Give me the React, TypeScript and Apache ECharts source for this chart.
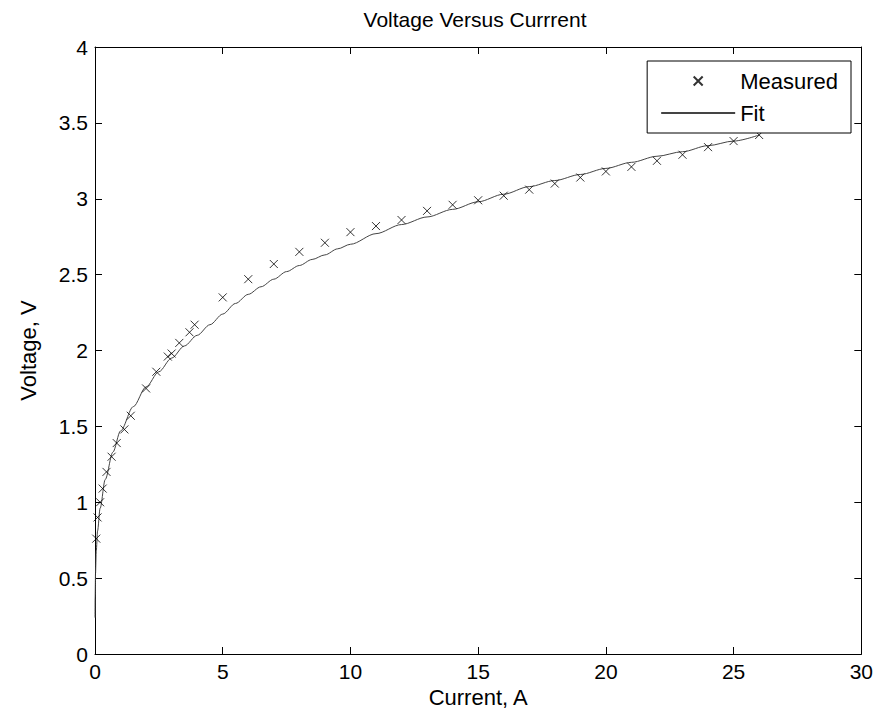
import React, { useEffect, useRef } from "react";
import * as echarts from "echarts";

const titleText = "Voltage Versus Currrent";
const xAxisName = "Current, A";
const yAxisName = "Voltage, V";
const seriesNames = ["Measured", "Fit"];

const measuredCurrent = [0.05, 0.1, 0.2, 0.3, 0.45, 0.65, 0.85, 1.15, 1.4, 2.0, 2.4, 2.85, 3.0, 3.3, 3.7, 3.9, 5, 6, 7, 8, 9, 10, 11, 12, 13, 14, 15, 16, 17, 18, 19, 20, 21, 22, 23, 24, 25, 26];
const measuredVoltage = [0.76, 0.9, 1.0, 1.09, 1.2, 1.3, 1.39, 1.48, 1.57, 1.75, 1.86, 1.96, 1.98, 2.05, 2.12, 2.17, 2.35, 2.47, 2.57, 2.65, 2.71, 2.78, 2.82, 2.86, 2.92, 2.96, 2.99, 3.02, 3.06, 3.10, 3.14, 3.18, 3.21, 3.25, 3.29, 3.34, 3.38, 3.42];

const fitCurrent = [0.001, 0.005, 0.02, 0.05, 0.1, 0.2, 0.4, 0.7, 1, 1.5, 2, 2.5, 3, 3.5, 4, 4.5, 5, 5.5, 6, 6.5, 7, 7.5, 8, 8.5, 9, 9.5, 10, 11, 12, 13, 14, 15, 16, 17, 18, 19, 20, 21, 22, 23, 24, 25, 26];
const fitVoltage = [0.24, 0.37, 0.53, 0.68, 0.81, 0.96, 1.15, 1.33, 1.47, 1.63, 1.76, 1.86, 1.95, 2.03, 2.1, 2.17, 2.24, 2.31, 2.37, 2.42, 2.47, 2.52, 2.56, 2.6, 2.63, 2.67, 2.7, 2.77, 2.83, 2.88, 2.93, 2.98, 3.03, 3.08, 3.12, 3.16, 3.2, 3.24, 3.28, 3.31, 3.35, 3.38, 3.42];

const FONT = "'Liberation Sans', Arial, Helvetica, sans-serif";

export default function App() {
  const ref = useRef<HTMLDivElement>(null);
  useEffect(() => {
    if (!ref.current) return;
    const chart = echarts.init(ref.current, null, { renderer: "svg" });
    const measured = measuredCurrent.map((c, i) => [c, measuredVoltage[i]]);
    const fit = fitCurrent.map((c, i) => [c, fitVoltage[i]]);
    const axisLine = { show: true, onZero: false, lineStyle: { color: "#000", width: 1 } };
    const tick = { show: true, inside: true, length: 7, lineStyle: { color: "#000", width: 1 } };
    const label = { color: "#000", fontSize: 21, fontFamily: FONT };
    chart.setOption({
      animation: false,
      backgroundColor: "#fff",
      title: {
        text: titleText,
        left: 470,
        top: 4,
        textAlign: "center",
        textStyle: { fontSize: 21, fontWeight: "normal", color: "#000", fontFamily: FONT },
      },
      legend: {
        orient: "vertical",
        right: 25,
        top: 61,
        data: [
          { name: seriesNames[0] },
          { name: seriesNames[1], itemStyle: { color: "rgba(0,0,0,0)", borderWidth: 0, opacity: 0 } },
        ],
        itemWidth: 74,
        itemHeight: 9,
        itemGap: 10,
        borderColor: "#000",
        borderWidth: 1,
        borderRadius: 0,
        backgroundColor: "#fff",
        padding: [9, 13, 9, 13],
        textStyle: { fontSize: 22, color: "#000", fontFamily: FONT },
      },
      grid: { left: 95, right: 14, top: 47, bottom: 64, containLabel: false },
      xAxis: [
        {
          type: "value",
          min: 0,
          max: 30,
          interval: 5,
          position: "bottom",
          name: xAxisName,
          nameLocation: "middle",
          nameGap: 29,
          nameTextStyle: { fontSize: 22, color: "#000", fontFamily: FONT },
          axisLine,
          axisTick: tick,
          axisLabel: { ...label, margin: 7 },
          splitLine: { show: false },
        },
        {
          type: "value",
          min: 0,
          max: 30,
          interval: 5,
          position: "top",
          axisLine,
          axisTick: tick,
          axisLabel: { show: false },
          splitLine: { show: false },
        },
      ],
      yAxis: [
        {
          type: "value",
          min: 0,
          max: 4,
          interval: 0.5,
          position: "left",
          name: yAxisName,
          nameLocation: "middle",
          nameGap: 56,
          nameTextStyle: { fontSize: 22, color: "#000", fontFamily: FONT },
          axisLine,
          axisTick: tick,
          axisLabel: { ...label, margin: 7 },
          splitLine: { show: false },
        },
        {
          type: "value",
          min: 0,
          max: 4,
          interval: 0.5,
          position: "right",
          axisLine,
          axisTick: tick,
          axisLabel: { show: false },
          splitLine: { show: false },
        },
      ],
      series: [
        {
          name: seriesNames[0],
          type: "scatter",
          xAxisIndex: 0,
          yAxisIndex: 0,
          data: measured,
          symbol: "path://M0,0L10,10M10,0L0,10",
          symbolSize: 8,
          itemStyle: { color: "#000", borderColor: "#000", borderWidth: 1 },
          z: 3,
        },
        {
          name: seriesNames[1],
          type: "line",
          xAxisIndex: 0,
          yAxisIndex: 0,
          data: fit,
          showSymbol: false,
          symbol: "none",
          smooth: 0.3,
          smoothMonotone: "x",
          lineStyle: { color: "#444", width: 1 },
          itemStyle: { color: "#444" },
          z: 2,
        },
      ],
    });
    return () => chart.dispose();
  }, []);
  return (
    <div
      ref={ref}
      style={{ position: "fixed", left: 0, top: 0, width: 876, height: 718 }}
    />
  );
}
